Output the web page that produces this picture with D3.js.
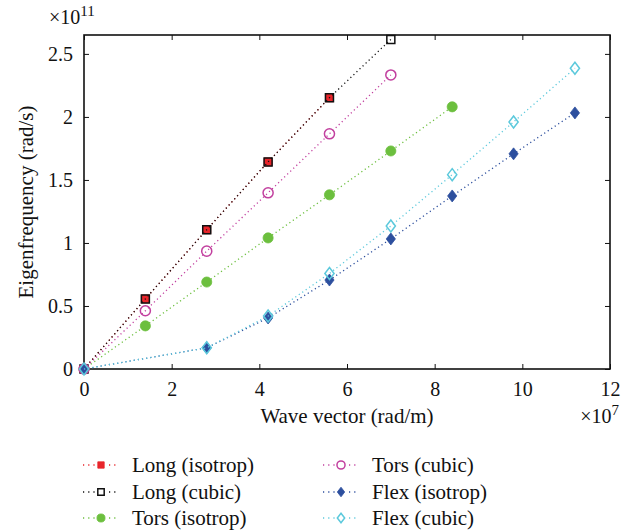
<!DOCTYPE html>
<html>
<head>
<meta charset="utf-8">
<script src="https://cdn.jsdelivr.net/npm/d3@7"></script>
<style>
  body { margin: 0; background: #fff; }
  svg text { font-family: "Liberation Serif", "DejaVu Serif", serif; fill: #111; }
  .tick text { font-size: 20px; }
  .tick line { stroke: #111; }
  .domain { stroke: none; }
</style>
</head>
<body>
<div id="chart"></div>
<script>
// wave vector (x 1e7 rad/m) and eigenfrequency (x 1e11 rad/s)
const longIsoX = [0, 1.4, 2.8, 4.2, 5.6];
const longIsoY = [0, 0.556, 1.105, 1.643, 2.152];
const longCubX = [0, 1.4, 2.8, 4.2, 5.6, 7.0];
const longCubY = [0, 0.556, 1.105, 1.643, 2.152, 2.615];
const torsIsoX = [0, 1.4, 2.8, 4.2, 5.6, 7.0, 8.4];
const torsIsoY = [0, 0.342, 0.69, 1.04, 1.382, 1.73, 2.08];
const torsCubX = [0, 1.4, 2.8, 4.2, 5.6, 7.0];
const torsCubY = [0, 0.462, 0.935, 1.398, 1.866, 2.333];
const flexIsoX = [0, 2.8, 4.2, 5.6, 7.0, 8.4, 9.8, 11.2];
const flexIsoY = [0, 0.168, 0.405, 0.706, 1.032, 1.373, 1.707, 2.032];
const flexCubX = [0, 2.8, 4.2, 5.6, 7.0, 8.4, 9.8, 11.2];
const flexCubY = [0, 0.168, 0.42, 0.758, 1.135, 1.542, 1.96, 2.386];

const xTicks = [0, 2, 4, 6, 8, 10, 12];
const yTicks = [0, 0.5, 1, 1.5, 2, 2.5];

const series = [
    {name: "Long (isotrop)", xs: longIsoX, ys: longIsoY, color: "#e8252b", shape: "square", fill: true},
    {name: "Long (cubic)", xs: longCubX, ys: longCubY, color: "#111111", shape: "square", fill: false},
    {name: "Tors (isotrop)", xs: torsIsoX, ys: torsIsoY, color: "#6cbf3e", shape: "circle", fill: true},
    {name: "Tors (cubic)", xs: torsCubX, ys: torsCubY, color: "#c2409f", shape: "circle", fill: false},
    {name: "Flex (isotrop)", xs: flexIsoX, ys: flexIsoY, color: "#2d4f9e", shape: "diamond", fill: true},
    {name: "Flex (cubic)", xs: flexCubX, ys: flexCubY, color: "#5cc9dc", shape: "diamond", fill: false}
];

const W = 635, H = 531;
const margin = {top: 35, right: 25, bottom: 162, left: 84};
const width = W - margin.left - margin.right,
    height = H - margin.top - margin.bottom;

const root = d3.select("#chart").append("svg")
    .attr("width", W)
    .attr("height", H);
const svg = root.append("g")
    .attr("transform", "translate(" + margin.left + "," + margin.top + ")");

const x = d3.scaleLinear().domain([0, 12]).range([0, width]);
const y = d3.scaleLinear().domain([0, 2.65]).range([height, 0]);

// axes, ticks pointing inward on all four sides
svg.append("g")
    .attr("class", "tick")
    .attr("transform", "translate(0," + height + ")")
    .call(d3.axisBottom(x).tickValues(xTicks).tickSizeInner(-5).tickSizeOuter(0).tickPadding(13))
    .call(g => g.selectAll(".tick text").attr("dy", "0.71em"));
svg.append("g")
    .attr("class", "tick")
    .call(d3.axisTop(x).tickValues(xTicks).tickSizeInner(-5).tickSizeOuter(0).tickFormat(""));
svg.append("g")
    .attr("class", "tick")
    .call(d3.axisLeft(y).tickValues(yTicks).tickSizeInner(-5).tickSizeOuter(0).tickPadding(11)
        .tickFormat(d => d));
svg.append("g")
    .attr("class", "tick")
    .attr("transform", "translate(" + width + ",0)")
    .call(d3.axisRight(y).tickValues(yTicks).tickSizeInner(-5).tickSizeOuter(0).tickFormat(""));

svg.append("rect")
    .attr("width", width)
    .attr("height", height)
    .attr("fill", "none")
    .attr("stroke", "#111")
    .attr("stroke-width", 1.6);

function symbolPath(shape, k) {
    if (shape === "square") return "M" + (-4 * k) + "," + (-4 * k) + "h" + 8 * k + "v" + 8 * k + "h" + (-8 * k) + "Z";
    if (shape === "circle") return d3.symbol(d3.symbolCircle, 80 * k * k)();
    return "M0," + (-6 * k) + "L" + 4.6 * k + ",0L0," + 6 * k + "L" + (-4.6 * k) + ",0Z";
}

function drawMarker(g, s, px, py, k) {
    g.append("path")
        .attr("d", symbolPath(s.shape, k))
        .attr("transform", "translate(" + px + "," + py + ")")
        .attr("fill", s.fill ? s.color : "none")
        .attr("stroke", s.color)
        .attr("stroke-width", s.fill ? 0.8 : 1.5);
}

const line = d3.line()
    .x(d => x(d[0]))
    .y(d => y(d[1]));

series.forEach(function (s) {
    const pts = s.xs.map((v, i) => [v, s.ys[i]]);
    svg.append("path")
        .datum(pts)
        .attr("fill", "none")
        .attr("stroke", s.color)
        .attr("stroke-width", 1.3)
        .attr("stroke-dasharray", "1.2,3")
        .attr("d", line);
    pts.forEach(function (p) {
        drawMarker(svg, s, x(p[0]), y(p[1]), 1);
    });
});

// axis titles and multipliers
svg.append("text")
    .attr("transform", "translate(-51," + (height / 2) + ") rotate(-90)")
    .attr("text-anchor", "middle")
    .style("font-size", "21px")
    .text("Eigenfrequency (rad/s)");
svg.append("text")
    .attr("x", width / 2)
    .attr("y", height + 54)
    .attr("text-anchor", "middle")
    .style("font-size", "21px")
    .text("Wave vector (rad/m)");

const m1 = root.append("text").attr("x", 49).attr("y", 24).style("font-size", "20px");
m1.append("tspan").text("\u00d710");
m1.append("tspan").attr("dy", -8).style("font-size", "15px").text("11");
const m2 = root.append("text").attr("x", 619).attr("y", 423)
    .attr("text-anchor", "end").style("font-size", "20px");
m2.append("tspan").text("\u00d710");
m2.append("tspan").attr("dy", -8).style("font-size", "15px").text("7");

// legend
const legendX = [101, 341], legendY = [465, 492, 518];
series.forEach(function (s, i) {
    const cx = legendX[Math.floor(i / 3)], cy = legendY[i % 3];
    const g = root.append("g");
    g.append("line")
        .attr("x1", cx - 18).attr("x2", cx + 18)
        .attr("y1", cy).attr("y2", cy)
        .attr("stroke", s.color)
        .attr("stroke-width", 1.3)
        .attr("stroke-dasharray", "1.2,4");
    g.append("rect")
        .attr("x", cx - 6).attr("y", cy - 6)
        .attr("width", 12).attr("height", 12)
        .attr("fill", "#fff");
    drawMarker(g, s, cx, cy, 0.8);
    g.append("text")
        .attr("x", cx + 31)
        .attr("y", cy + 7)
        .style("font-size", "21px")
        .text(s.name);
});
</script>
</body>
</html>
